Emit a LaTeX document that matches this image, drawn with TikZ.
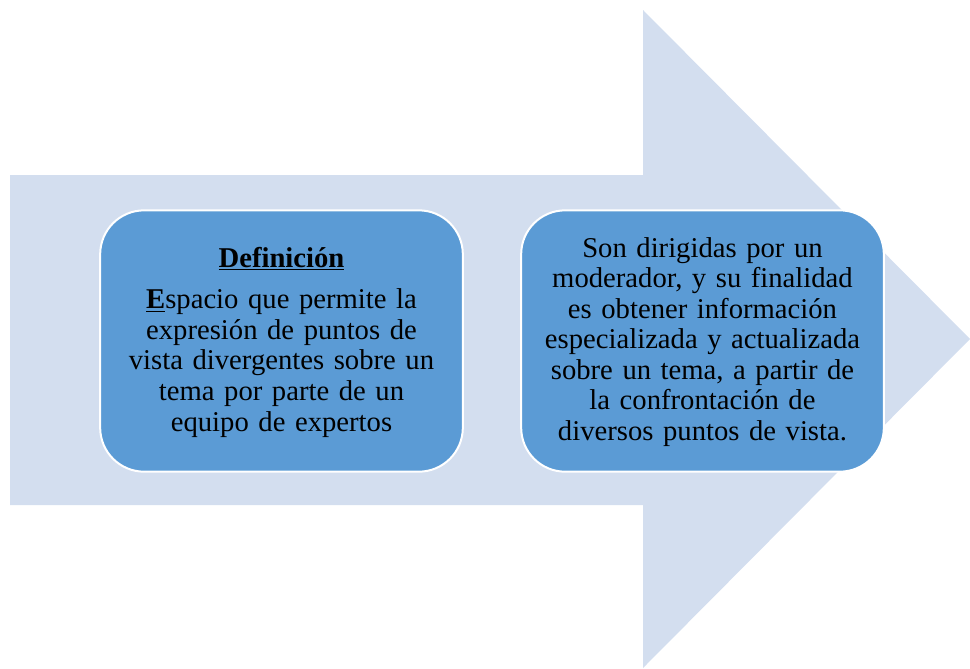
\documentclass[tikz,border=0pt]{standalone}
\usepackage{fontspec}
\setmainfont{Liberation Serif}
\definecolor{arrowfill}{RGB}{211,222,239}
\definecolor{boxfill}{RGB}{91,155,213}
\begin{document}
\begin{tikzpicture}[x=0.75pt,y=-0.75pt,
  bigarrow/.style={fill=arrowfill,draw=none},
  infobox/.style={draw=white,line width=1.5pt,fill=boxfill,rounded corners=33pt,
    minimum width=272pt,minimum height=196pt,inner sep=0pt},
  infotext/.style={align=center,text width=262pt,font=\fontsize{21.5}{22.9}\selectfont,text=black}]
\useasboundingbox (0,0) rectangle (970,668);
\path[bigarrow] (10,175) -- (643,175) -- (643,10) -- (970,339) -- (643,668) -- (643,505) -- (10,505) -- cycle;
\node[infobox] (left) at (281.5,341) {};
\node[infobox] (right) at (702.5,341) {};
\node[infotext] (lefttext) at (281.5,342) {\underline{\textbf{Definición}}\\[8.5pt]
\underline{\textbf{E}}spacio que permite la\\ expresión de puntos de\\ vista divergentes sobre un\\ tema por parte de un\\ equipo de expertos};
\node[infotext] (righttext) at (702.5,342) {Son dirigidas por un\\ moderador, y su finalidad\\ es obtener información\\ especializada y actualizada\\ sobre un tema, a partir de\\ la confrontación de\\ diversos puntos de vista.};
\end{tikzpicture}
\end{document}
